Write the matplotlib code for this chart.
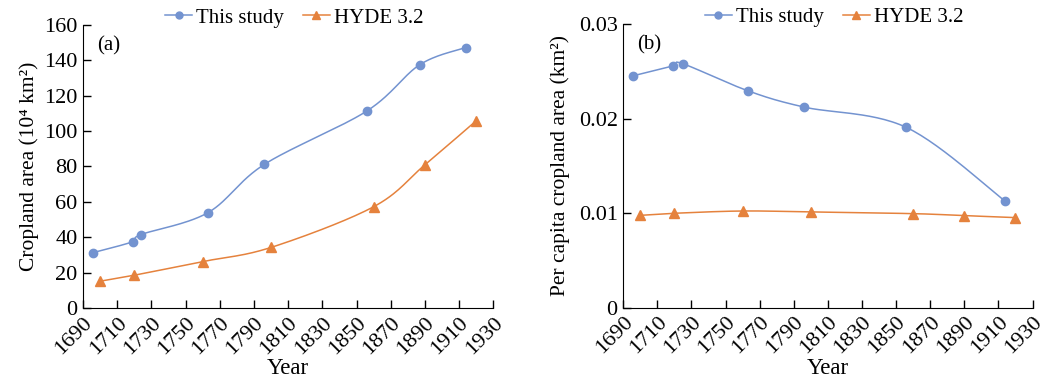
import numpy as np
import matplotlib
matplotlib.use("Agg")
import matplotlib.pyplot as plt

plt.rcParams['font.family'] = ['Liberation Serif', 'DejaVu Serif']
plt.rcParams['font.size'] = 16

# dados
anos_estudo_a = [1696, 1719, 1724, 1763, 1796, 1856, 1887, 1914]
area_estudo = [31.3, 37.4, 41.5, 53.8, 81.1, 111.3, 137.5, 147.2]
anos_hyde = [1700, 1720, 1760, 1800, 1860, 1890, 1920]
area_hyde = [15.1, 18.5, 26.2, 34.2, 57.2, 80.9, 105.8]

anos_estudo_b = [1696, 1719, 1725, 1763, 1796, 1856, 1914]
percapita_estudo = [0.02454, 0.02556, 0.0258, 0.02295, 0.02122, 0.01907, 0.01125]
percapita_hyde = [0.00976, 0.00998, 0.01022, 0.01012, 0.00994, 0.00973, 0.00952]

anos_ticks = list(range(1690, 1931, 20))

AZUL = '#7393D0'
LARANJA = '#E5823D'


def suavizar(x, y, n=30):
    # curva suavizada estilo Excel (Catmull-Rom / Bezier)
    x = np.asarray(x, float)
    y = np.asarray(y, float)
    px = np.concatenate([[x[0]], x, [x[-1]]])
    py = np.concatenate([[y[0]], y, [y[-1]]])
    xs, ys = [], []
    t = np.linspace(0, 1, n)
    for i in range(1, len(px) - 2):
        p0 = np.array([px[i], py[i]])
        p3 = np.array([px[i + 1], py[i + 1]])
        p1 = p0 + (np.array([px[i + 1], py[i + 1]]) - np.array([px[i - 1], py[i - 1]])) / 6
        p2 = p3 - (np.array([px[i + 2], py[i + 2]]) - np.array([px[i], py[i]])) / 6
        b = ((1 - t) ** 3)[:, None] * p0 + (3 * (1 - t) ** 2 * t)[:, None] * p1 \
            + (3 * (1 - t) * t ** 2)[:, None] * p2 + (t ** 3)[:, None] * p3
        xs.extend(b[:, 0])
        ys.extend(b[:, 1])
    return xs, ys


def desenhar(ax, x1, y1, x2, y2):
    sx, sy = suavizar(x1, y1)
    ax.plot(sx, sy, color=AZUL, lw=1.1)
    ax.plot(x1, y1, 'o', color=AZUL, ms=6)
    sx, sy = suavizar(x2, y2)
    ax.plot(sx, sy, color=LARANJA, lw=1.1)
    ax.plot(x2, y2, '^', color=LARANJA, ms=6.5)
    # entradas da legenda
    ax.plot([], [], '-o', color=AZUL, lw=1.1, ms=5, label='This study')
    ax.plot([], [], '-^', color=LARANJA, lw=1.1, ms=5.5, label='HYDE 3.2')
    ax.set_xlim(1690, 1930)
    ax.set_xticks(anos_ticks)
    ax.set_xticklabels([str(a) for a in anos_ticks], rotation=45, ha='right',
                       rotation_mode='anchor')
    ax.spines['top'].set_visible(False)
    ax.spines['right'].set_visible(False)
    ax.tick_params(direction='in', length=6, width=1, labelsize=16, pad=4)
    ax.set_xlabel('Year', fontsize=16.5, labelpad=0)
    ax.legend(loc='center', bbox_to_anchor=(0.515, 1.025), ncol=2, frameon=False,
              handlelength=1.3, columnspacing=0.9, handletextpad=0.2,
              fontsize=15)


fig = plt.figure(figsize=(10.44, 3.83), dpi=100)
ax1 = fig.add_axes([0.0795, 0.196, 0.393, 0.739])
ax2 = fig.add_axes([0.597, 0.197, 0.392, 0.740])

desenhar(ax1, anos_estudo_a, area_estudo, anos_hyde, area_hyde)
ax1.set_ylim(0, 160)
ax1.set_yticks(range(0, 161, 20))
ax1.set_ylabel('Cropland area (10\u2074 km\u00b2)', fontsize=15.5, labelpad=4)
ax1.text(0.035, 0.96, '(a)', transform=ax1.transAxes, va='top', fontsize=15)

desenhar(ax2, anos_estudo_b, percapita_estudo, anos_hyde, percapita_hyde)
ax2.set_ylim(0, 0.03)
ax2.set_yticks([0, 0.01, 0.02, 0.03])
ax2.set_yticklabels(['0', '0.01', '0.02', '0.03'])
ax2.set_ylabel('Per capita cropland area (km\u00b2)', fontsize=15.5, labelpad=6)
ax2.text(0.035, 0.96, '(b)', transform=ax2.transAxes, va='top', fontsize=15)

fig.savefig('out.png', dpi=100)
